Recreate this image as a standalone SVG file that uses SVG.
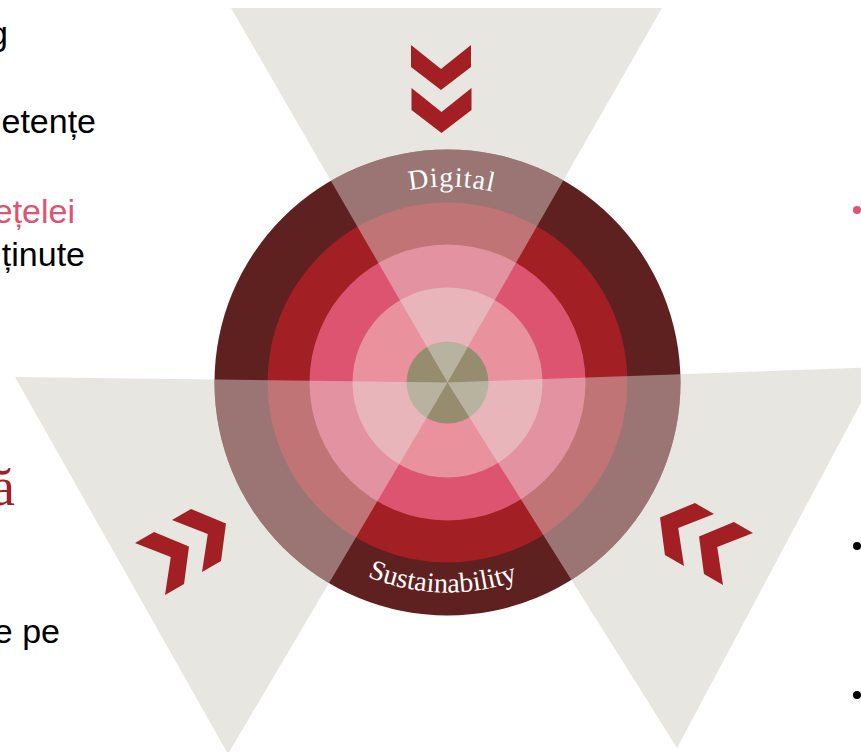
<svg xmlns="http://www.w3.org/2000/svg" width="861" height="752" viewBox="0 0 861 752">
<style>
.tri{fill:#e7e6e1}
.ov{fill:#e7e6e1;opacity:0.43}
.chev{fill:#a21f24}
.txt{font-family:"Liberation Sans",Arial,sans-serif;font-size:34px;fill:#000}
.lbl{font-family:"Liberation Serif","Times New Roman",serif;fill:#ffffff}
</style>
<defs>
<path id="chev" d="M-30,0 L0,24 L30,0 L30,22 L0,45 L-30,22 Z"/>
<clipPath id="circ"><circle cx="447.5" cy="382.5" r="233"/></clipPath>
<path id="arcTop" d="M251.5,382.5 A196,196 0 0 1 643.5,382.5"/>
<path id="arcBot" d="M237.5,382.5 A210,210 0 0 0 657.5,382.5"/>
</defs>
<rect width="861" height="752" fill="#ffffff"/>
<g id="left-text">
<text class="txt" x="8" y="45" text-anchor="end">g</text>
<text class="txt" x="96" y="133" text-anchor="end">etențe</text>
<text class="txt" x="75" y="223" text-anchor="end" style="fill:#dc5470">ețelei</text>
<text class="txt" x="85" y="266" text-anchor="end">ținute</text>
<text x="15" y="505" text-anchor="end" style="font-family:'Liberation Serif','Times New Roman',serif;font-size:54px;fill:#a21f24">ă</text>
<text class="txt" x="60" y="643" text-anchor="end">e pe</text>
</g>
<g id="triangles">
<polygon id="tri-top" class="tri" points="231,8 662,8 447.5,382.5"/>
<polygon id="tri-right" class="tri" points="447.5,382.5 880,367 677,748"/>
<polygon id="tri-left" class="tri" points="447.5,382.5 15,377 228,754"/>
</g>
<g id="wheel">
<circle cx="447.5" cy="382.5" r="233" fill="#5f2120"/>
<circle cx="447.5" cy="382.5" r="180" fill="#a21f24"/>
<circle cx="447.5" cy="382.5" r="138" fill="#dd5470"/>
<circle cx="447.5" cy="382.5" r="95" fill="#e9919d"/>
<circle cx="447.5" cy="382.5" r="41" fill="#958d6e"/>
<g clip-path="url(#circ)">
<polygon class="ov" points="231,8 662,8 447.5,382.5"/>
<polygon class="ov" points="447.5,382.5 880,367 677,748"/>
<polygon class="ov" points="447.5,382.5 15,377 228,754"/>
</g>
</g>
<g id="chevrons">
<use href="#chev" class="chev" transform="translate(441,45)"/>
<use href="#chev" class="chev" transform="translate(441.5,88)"/>
<use href="#chev" class="chev" transform="translate(150,569) rotate(-120)"/>
<use href="#chev" class="chev" transform="translate(187,546) rotate(-120)"/>
<use href="#chev" class="chev" transform="translate(699,540) rotate(120)"/>
<use href="#chev" class="chev" transform="translate(738,559) rotate(120)"/>
</g>
<g id="labels">
<text class="lbl" font-size="28" letter-spacing="1" text-anchor="middle"><textPath href="#arcTop" startOffset="311.9">Digital</textPath></text>
<text class="lbl" font-size="28" text-anchor="middle"><textPath href="#arcBot" startOffset="324.4">Sustainability</textPath></text>
</g>
<g id="bullets">
<circle cx="857" cy="210" r="4" fill="#dc5470"/>
<circle cx="857" cy="546" r="4" fill="#000"/>
<circle cx="857" cy="695" r="4" fill="#000"/>
</g>
</svg>
